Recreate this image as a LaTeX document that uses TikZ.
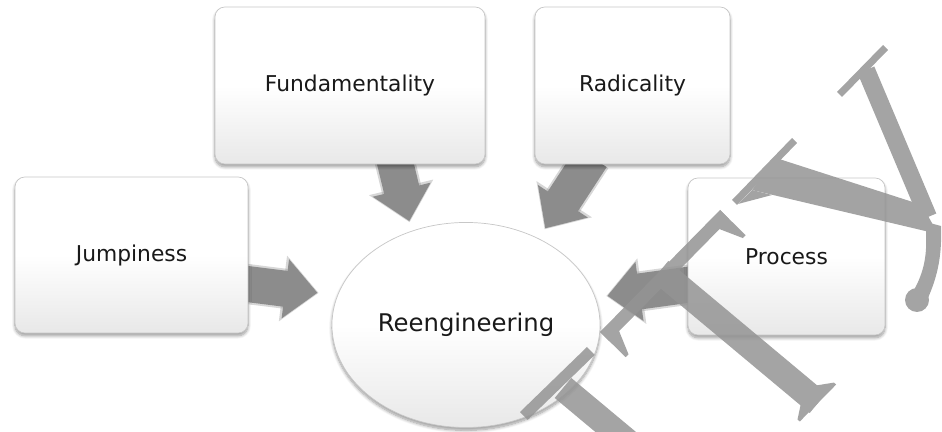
\documentclass[tikz,border=0pt]{standalone}
\usepackage{fontspec}
\setmainfont{DejaVu Sans}
\usetikzlibrary{arrows.meta,shapes.geometric,shadows.blur}
\pgfdeclarelayer{background}
\pgfsetlayers{background,main}
\tikzset{
box/.style = {rectangle, rounded corners=0.25cm, draw=black!22, line width=0.5pt,
              top color=white, bottom color=black!9, middle color=white,
              blur shadow={shadow xshift=0pt, shadow yshift=-2pt, shadow blur steps=8, shadow opacity=40},
              text=black!90, font=\fontsize{15.5}{18}\selectfont,
              minimum width=#1, minimum height=3.925cm},
box/.default = 5cm,
hub/.style = {ellipse, draw=black!22, line width=0.5pt, inner sep=0pt,
              top color=white, bottom color=black!9, middle color=white,
              blur shadow={shadow xshift=0pt, shadow yshift=-2pt, shadow blur steps=8, shadow opacity=40},
              text=black!90, font=\fontsize{17.3}{20}\selectfont,
              minimum width=6.7cm, minimum height=5.125cm},
bigArrow/.style = {draw=black!45, line width=0.9cm, shorten <=-6pt,
                   -{Triangle[length=0pt 0.9, width=0pt 1.6]}},
arrowGlow/.style = {draw=black!45, opacity=0.35, line width=1cm, shorten <=-6pt,
                    -{Triangle[length=0pt 0.9, width=0pt 1.6]}}
}

\begin{document}
\begin{tikzpicture}[x=0.025cm, y=-0.025cm]
    \useasboundingbox (0,0) rectangle (942,432);

    \node[box=6.75cm] (fundBox) at (350,85.5) {Fundamentality};
    \node[box=4.875cm] (radBox) at (632.5,85.5) {Radicality};
    \node[box=5.825cm, minimum height=3.9cm] (jumpBox) at (131.5,255) {Jumpiness};
    \node[box=4.925cm] (procBox) at (786.5,256.5) {Process};
    \node[hub] (reengHub) at (466,325) {Reengineering};

    \begin{pgfonlayer}{background}
    \draw[arrowGlow, shorten >=0.22cm] (fundBox.-60) -- (reengHub.120);
    \draw[arrowGlow, shorten >=0.27cm] (radBox.-120) -- (reengHub.50);
    \draw[arrowGlow, shorten >=0.47cm] (jumpBox.-14) -- (reengHub.167);
    \draw[arrowGlow, shorten >=0.27cm] (procBox.-164) -- (reengHub.12);
    \draw[bigArrow, shorten >=0.25cm] (fundBox.-60) -- (reengHub.120);
    \draw[bigArrow, shorten >=0.3cm] (radBox.-120) -- (reengHub.50);
    \draw[bigArrow, shorten >=0.5cm] (jumpBox.-14) -- (reengHub.167);
    \draw[bigArrow, shorten >=0.3cm] (procBox.-164) -- (reengHub.12);
    \end{pgfonlayer}

    % watermark
    \begin{scope}[transparency group, opacity=0.85]
    \fill[black!42] (520,412) -- (587,347) -- (594.7,354.9) -- (527.7,419.9) -- cycle;
    \fill[black!42] (571.3,378) -- (636,432) -- (595.4,432) -- (554.7,398) -- cycle;
    \fill[black!42] (600,332) -- (720,210) -- (729.3,219.1) -- (609.3,341.1) -- cycle;
    \fill[black!42] (600,332) -- (625.7,357.2) -- (628.5,354.3) -- (619.1,331.1) -- cycle;
    \fill[black!42] (720,210) -- (745.7,235.2) -- (742.9,238.1) -- (719.5,229.1) -- cycle;
    \fill[black!42] (668.3,261) -- (826.3,393) -- (809.7,413) -- (651.7,281) -- cycle;
    \fill[black!42] (799.8,421.5) -- (797.5,419.6) -- (800.5,405.3) -- (817.1,385.3)
                    -- (833.9,382.6) -- (836.2,384.5) -- cycle;
    \fill[black!42] (732,200) -- (792,138) -- (797,143) -- (737,205) -- cycle;
    \fill[black!42] (738,204) -- (772,195) -- (752,190) -- cycle;
    \fill[black!42] (776,158) -- (922,205) -- (938,234) -- (752,190) -- cycle;
    \fill[black!42] (837,92) -- (883,45) -- (888,50) -- (842,97) -- cycle;
    \fill[black!42] (874.3,66.5) -- (936.3,213.5) -- (919.7,220.5) -- (857.7,73.5) -- cycle;
    \fill[black!42] (926,222) -- (941,226) .. controls (942,255) and (938,275) .. (928,298)
                    -- (914,290) .. controls (924,272) and (927,255) .. (926,235) -- cycle;
    \fill[black!42] (917,300) circle (12);
    \end{scope}
\end{tikzpicture}
\end{document}
